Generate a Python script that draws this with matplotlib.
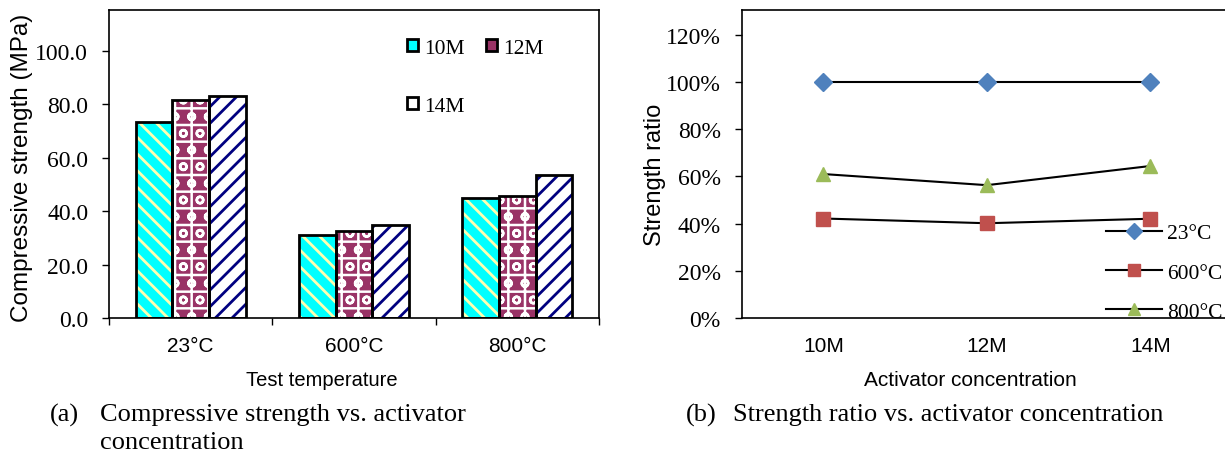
import numpy as np
import matplotlib
matplotlib.use("Agg")
import matplotlib.pyplot as plt
from matplotlib.patches import Patch

# --- data ---
temps = ["23°C", "600°C", "800°C"]
conc = ["10M", "12M", "14M"]
strength_10M = [73.5, 31.0, 44.8]
strength_12M = [81.5, 32.7, 45.8]
strength_14M = [83.3, 35.0, 53.6]
ratio_23 = [100, 100, 100]
ratio_600 = [42.2, 40.2, 42.1]
ratio_800 = [61.0, 56.3, 64.4]

W, H = 1225, 456
SERIF = "Liberation Serif"
SANS = "Liberation Sans"

fig = plt.figure(figsize=(W / 100, H / 100), dpi=100)


def px_axes(x0, x1, y_top, y_bot):
    return fig.add_axes([x0 / W, 1 - y_bot / H, (x1 - x0) / W, (y_bot - y_top) / H])


# --- (a) bar chart ---
ax1 = px_axes(109, 599, 11, 319)
x = np.arange(len(temps))
bw = 0.225
series = [
    (strength_10M, "#00FFFF", "#FFFFB0", "\\\\", 2.0),
    (strength_12M, "#993366", "#FFFFFF", "+o", 1.8),
    (strength_14M, "#FFFFFF", "#000080", "//", 2.0),
]
for i, (vals, face, hcol, hatch, hlw) in enumerate(series):
    pos = x + (i - 1) * bw
    with plt.rc_context({"hatch.linewidth": hlw}):
        ax1.bar(pos, vals, bw, color=face, hatch=hatch, edgecolor=hcol, linewidth=0, zorder=2)
    ax1.bar(pos, vals, bw, fill=False, edgecolor="black", linewidth=2.0, zorder=3)

ax1.set_xlim(-0.5, 2.5)
ax1.set_ylim(0, 115.4)
ax1.set_yticks(np.arange(0, 101, 20))
ax1.set_yticklabels([f"{v:.1f}" for v in np.arange(0, 101, 20)], family=SERIF, fontsize=17)
ax1.set_xticks(x)
ax1.set_xticklabels(temps, family=SANS, fontsize=15)
ax1.set_xticks([-0.5, 0.5, 1.5, 2.5], minor=True)
ax1.tick_params(axis="x", which="major", length=0, pad=13)
ax1.tick_params(axis="x", which="minor", length=5, direction="out", width=1)
ax1.tick_params(axis="y", length=5, direction="out", width=1, pad=10)
for s in ax1.spines.values():
    s.set_linewidth(1.2)

handles = [
    Patch(facecolor="#00FFFF", edgecolor="black", linewidth=2, label="10M"),
    Patch(facecolor="#FFFFFF", edgecolor="black", linewidth=2, label="14M"),
    Patch(facecolor="#993366", edgecolor="black", linewidth=2, label="12M"),
]
ax1.legend(handles=handles, ncol=2, frameon=False, prop={"family": SERIF, "size": 15.5},
           handlelength=0.5, handleheight=0.5, handletextpad=0.3, columnspacing=1.0,
           labelspacing=1.8, borderpad=0, borderaxespad=0, loc="upper left",
           bbox_to_anchor=((407 - 109) / 490, (319 - 40) / 308))

fig.text(22 / W, 1 - 168 / H, "Compressive strength (MPa)", rotation=90, ha="center", va="center",
         family=SANS, fontsize=17.5)
fig.text(322 / W, 1 - 381 / H, "Test temperature", ha="center", va="center", family=SANS, fontsize=14.5)

# --- (b) ratio chart ---
ax2 = px_axes(741.7, 1232, 10.7, 319.3)
xb = np.arange(len(conc))
ax2.plot(xb, ratio_23, color="black", lw=1.5, marker="D", ms=9, mfc="#4F81BD", mec="#4F81BD", label="23°C", zorder=3)
ax2.plot(xb, ratio_600, color="black", lw=1.5, marker="s", ms=10.5, mfc="#C0504D", mec="#C0504D", label="600°C", zorder=3)
ax2.plot(xb, ratio_800, color="black", lw=1.5, marker="^", ms=10.5, mfc="#9BBB59", mec="#9BBB59", label="800°C", zorder=3)
ax2.set_xlim(-0.5, 2.5)
ax2.set_ylim(0, 130.5)
ax2.set_yticks(np.arange(0, 121, 20))
ax2.set_yticklabels([f"{v}%" for v in range(0, 121, 20)], family=SERIF, fontsize=17)
ax2.set_xticks(xb)
ax2.set_xticklabels(conc, family=SANS, fontsize=15)
ax2.tick_params(axis="x", length=0, pad=13)
ax2.tick_params(axis="y", length=5, direction="out", width=1, pad=10)
for s in ax2.spines.values():
    s.set_linewidth(1.2)
ax2.legend(frameon=False, prop={"family": SERIF, "size": 15.5}, handlelength=2.6, handletextpad=0.25,
           labelspacing=0.9, loc="upper left", borderaxespad=0, borderpad=0, markerscale=0.85,
           bbox_to_anchor=((1106 - 741.7) / 490.3, (319.3 - 224) / 308.6))

fig.text(655 / W, 1 - 175 / H, "Strength ratio", rotation=90, ha="center", va="center",
         family=SANS, fontsize=17)
fig.text(970 / W, 1 - 381 / H, "Activator concentration", ha="center", va="center", family=SANS, fontsize=15)

# --- captions ---
cap = dict(family=SERIF, fontsize=19, va="center", ha="left")
fig.text(50 / W, 1 - 415 / H, "(a)", **cap)
fig.text(100 / W, 1 - 415 / H, "Compressive strength vs. activator", **cap)
fig.text(100 / W, 1 - 443 / H, "concentration", **cap)
fig.text(686 / W, 1 - 415 / H, "(b)", **cap)
fig.text(733 / W, 1 - 415 / H, "Strength ratio vs. activator concentration", **cap)

fig.savefig("out.png", dpi=100)
